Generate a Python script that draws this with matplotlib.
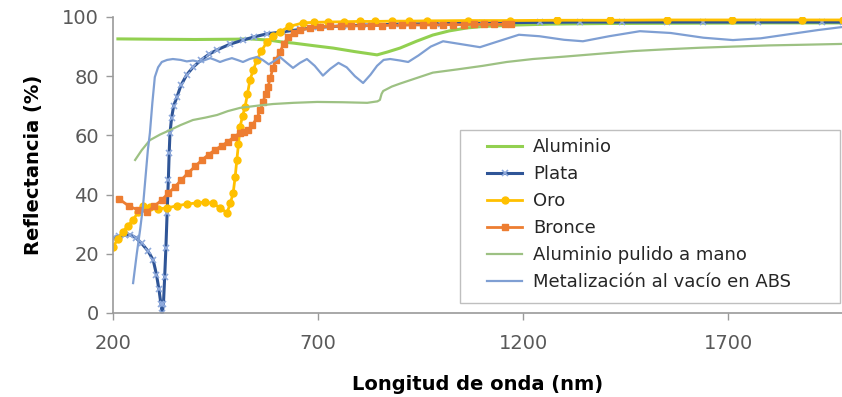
import matplotlib
matplotlib.use('agg')
import matplotlib.pyplot as plt
from matplotlib.patches import Rectangle

# Aluminio
al_x = [212, 300, 400, 500, 534, 580, 615, 639, 690, 737, 790, 844, 870, 900, 940, 980, 1020, 1063,
        1102, 1185, 1266, 1400, 1600, 1800, 1980]
al_y = [92.6, 92.5, 92.4, 92.5, 92.6, 92.2, 91.5, 91.2, 90.3, 89.5, 88.3, 87.2, 88.2, 89.5, 91.8, 93.9, 95.3, 96.3,
        96.8, 97.3, 97.6, 97.8, 97.9, 98.0, 98.0]

# Plata
pl_x = [200, 215, 230, 241, 255, 270, 285, 298, 306, 312, 317, 320, 323, 326, 329, 332, 335, 337, 339, 343,
        348, 356, 366, 380, 395, 415, 435, 454, 485, 517, 545, 575, 615, 656, 700, 760, 820, 900, 1000, 1100,
        1241, 1339, 1441, 1551, 1639, 1773, 1929, 1980]
pl_y = [25.3, 26.0, 26.3, 26.4, 25.5, 23.5, 21.0, 17.9, 13.0, 8.0, 3.0, 0.0, 3.0, 12.0, 22.0, 33.8, 45.0, 54.0, 60.8, 66.0,
        70.0, 73.0, 77.0, 80.5, 83.0, 85.5, 87.5, 88.9, 90.8, 92.2, 93.3, 94.3, 95.0, 95.8, 96.5, 97.0, 97.3, 97.6, 97.8, 98.0,
        98.2, 98.3, 98.3, 98.3, 98.3, 98.3, 98.3, 98.3]

# Oro
oro_x = [200, 212, 224, 237, 249, 261, 273, 290, 310, 332, 355, 380, 405, 425, 444, 462, 478, 486, 493, 498,
         502, 506, 510, 516, 522, 528, 534, 542, 551, 562, 575, 590, 607, 630, 663, 690, 724, 763, 802, 840,
         880, 922, 966, 1066, 1168, 1283, 1412, 1551, 1710, 1880, 1980]
oro_y = [22.3, 25.0, 27.5, 29.5, 31.5, 34.0, 36.3, 35.8, 35.2, 35.5, 36.2, 36.8, 37.2, 37.5, 37.0, 35.5, 33.8, 37.0, 40.5, 46.0,
         51.7, 57.0, 63.0, 66.5, 69.6, 74.0, 78.7, 82.0, 85.5, 88.5, 91.5, 93.5, 95.0, 96.8, 98.0, 98.2, 98.3, 98.4, 98.5, 98.5,
         98.6, 98.6, 98.7, 98.8, 98.8, 98.9, 98.9, 99.0, 99.0, 99.0, 99.0]

# Bronce
br_x = [215, 240, 262, 283, 300, 319, 335, 351, 367, 383, 400, 417, 433, 449, 465, 480, 495, 510, 520, 529,
        540, 551, 559, 566, 572, 578, 584, 590, 598, 607, 617, 627, 641, 656, 680, 705, 730, 755, 780, 805,
        830, 855, 880, 905, 930, 955, 980, 1005, 1030, 1055, 1080, 1105, 1130, 1155, 1170]
br_y = [38.5, 36.0, 34.8, 34.1, 36.0, 38.2, 40.5, 42.6, 45.0, 47.3, 49.5, 51.7, 53.5, 55.1, 56.5, 57.8, 59.5, 60.8, 61.2, 61.8,
        63.5, 65.9, 68.5, 71.3, 74.0, 76.4, 79.5, 82.8, 85.5, 88.2, 91.0, 93.2, 94.5, 95.6, 96.2, 96.6, 96.8, 96.9, 97.0, 97.0,
        97.1, 97.1, 97.2, 97.2, 97.3, 97.3, 97.3, 97.4, 97.4, 97.4, 97.5, 97.5, 97.5, 97.5, 97.6]

# Aluminio pulido a mano
ap_x = [254, 270, 290, 315, 339, 365, 395, 425, 454, 480, 510, 550, 590, 640, 698, 760, 820, 845, 851, 855,
        859, 880, 900, 941, 980, 1040, 1102, 1160, 1224, 1300, 1388, 1470, 1551, 1630, 1712, 1800, 1876, 1978]
ap_y = [51.7, 55.0, 58.4, 60.3, 61.8, 63.5, 65.2, 66.0, 66.9, 68.2, 69.3, 70.0, 70.6, 71.0, 71.3, 71.2, 71.0, 71.5, 72.0, 74.0,
        75.0, 76.5, 77.5, 79.4, 81.2, 82.3, 83.5, 84.8, 85.8, 86.6, 87.6, 88.5, 89.1, 89.6, 90.0, 90.4, 90.6, 90.9]

# Metalización al vacío en ABS
mt_x = [249, 258, 266, 273, 280, 285, 290, 296, 302, 310, 319, 332, 346, 365, 380, 395, 412, 425, 437, 449,
        461, 475, 490, 503, 517, 533, 551, 565, 580, 594, 607, 624, 639, 656, 673, 692, 712, 730, 750, 770,
        790, 810, 828, 844, 860, 876, 900, 920, 945, 975, 1005, 1050, 1095, 1140, 1190, 1240, 1300, 1346, 1410,
        1485, 1560, 1640, 1712, 1780, 1850, 1920, 1978]
mt_y = [10.1, 20.0, 28.0, 35.8, 47.0, 55.0, 60.8, 71.0, 79.7, 83.0, 84.8, 85.5, 85.8, 85.5, 85.0, 85.3, 84.8, 85.5, 86.1, 85.5,
        84.8, 85.5, 86.1, 85.5, 84.8, 85.8, 86.5, 85.5, 84.0, 85.2, 86.5, 84.5, 82.8, 84.5, 85.8, 83.5, 80.2, 82.5, 84.5, 83.0,
        80.0, 77.7, 80.5, 83.5, 85.5, 85.8, 85.3, 84.8, 87.0, 90.0, 91.8, 90.8, 89.8, 91.8, 94.0, 93.5, 92.3, 91.8, 93.5,
        95.2, 94.6, 93.0, 92.2, 92.8, 94.2, 95.6, 96.6]

x_ticks = [200, 700, 1200, 1700]
y_ticks = [0, 20, 40, 60, 80, 100]

fig = plt.figure(figsize=(8.42, 3.97), dpi=100)
ax = fig.add_axes([0.1342, 0.2116, 0.8658, 0.7456])

ax.plot(al_x, al_y, color='#92D050', lw=2.2, label='Aluminio')
ax.plot(pl_x, pl_y, color='#2F5597', lw=2.2, marker='x', ms=4, mec='#8FAADC', mew=1.2, label='Plata')
ax.plot(oro_x, oro_y, color='#FFC000', lw=2.0, marker='o', ms=5, mfc='#FFC000', mec='#FFC000', label='Oro')
ax.plot(br_x, br_y, color='#ED7D31', lw=2.0, marker='s', ms=5, mfc='#ED7D31', mec='#ED7D31', label='Bronce')
ax.plot(ap_x, ap_y, color='#9DC183', lw=1.6, label='Aluminio pulido a mano')
ax.plot(mt_x, mt_y, color='#7F9FD3', lw=1.6, label='Metalización al vacío en ABS')

ax.set_xlim(200, 1978)
ax.set_ylim(0, 100)
ax.set_xticks(x_ticks)
ax.set_yticks(y_ticks)

for s in ['top', 'right']:
    ax.spines[s].set_visible(False)
for s in ['left', 'bottom']:
    ax.spines[s].set_color('#9A9A9A')
    ax.spines[s].set_linewidth(1.2)
ax.tick_params(direction='out', length=5, width=1, color='#9A9A9A', labelcolor='#595959', labelsize=14)
ax.tick_params(axis='x', pad=10)
ax.tick_params(axis='y', pad=5)

ax.set_xlabel('Longitud de onda (nm)', fontsize=14, fontweight='bold', labelpad=16)
ax.set_ylabel('Reflectancia (%)', fontsize=14, fontweight='bold', labelpad=14)

# marco de la leyenda
box = Rectangle((0.476, 0.034), 0.521, 0.584, transform=ax.transAxes, facecolor='white',
                edgecolor='#BFBFBF', lw=1.0, zorder=4.5, clip_on=False)
ax.add_patch(box)

leg = ax.legend(loc='upper left', bbox_to_anchor=(0.513, 0.59), fontsize=13, frameon=False,
                handlelength=1.95, labelspacing=0.5, borderpad=0, borderaxespad=0, handletextpad=0.6)
leg.set_zorder(5)
for t in leg.get_texts():
    t.set_color('#262626')

fig.savefig('out.png', dpi=100)
